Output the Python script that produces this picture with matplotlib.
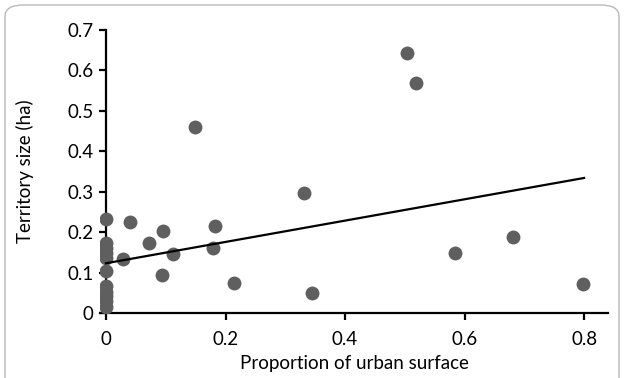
import matplotlib
matplotlib.use('Agg')
import matplotlib.pyplot as plt
from matplotlib.patches import FancyBboxPatch

plt.rcParams['font.family'] = ['Lato', 'DejaVu Sans']

# scatter values
urban = [0.503, 0.519, 0.149, 0.331, 0.345, 0.584, 0.681, 0.798, 0.215,
         0.182, 0.179, 0.112, 0.093, 0.096, 0.072, 0.040, 0.029,
         0, 0, 0, 0, 0, 0, 0, 0, 0, 0, 0]
territory = [0.642, 0.570, 0.459, 0.297, 0.049, 0.149, 0.189, 0.072, 0.073,
             0.214, 0.161, 0.147, 0.094, 0.203, 0.174, 0.225, 0.134,
             0.233, 0.173, 0.161, 0.148, 0.136, 0.105, 0.066, 0.053, 0.041, 0.029, 0.016]

# trend line end points
trend_x = [0, 0.8]
trend_y = [0.123, 0.334]

xticks = [0, 0.2, 0.4, 0.6, 0.8]
xticklabels = ['0', '0.2', '0.4', '0.6', '0.8']
yticks = [0, 0.1, 0.2, 0.3, 0.4, 0.5, 0.6, 0.7]
yticklabels = ['0', '0.1', '0.2', '0.3', '0.4', '0.5', '0.6', '0.7']

fig = plt.figure(figsize=(6.24, 3.78), dpi=100)
ax = fig.add_axes([100/624, 65/378, 508/624, 283/378])

# rounded frame around the figure
frame = FancyBboxPatch((5/624, -0.1), 614/624, (373/378) + 0.1,
                       boxstyle='round,pad=0,rounding_size=0.03',
                       transform=fig.transFigure, fill=False,
                       edgecolor='#b8b8b8', linewidth=1.0)
fig.patches.append(frame)

ax.plot(urban, territory, 'o', color='#5f5f5f', markersize=10, markeredgewidth=0, zorder=3)
ax.plot(trend_x, trend_y, '-', color='black', linewidth=1.6, zorder=4)

ax.set_xlim(-0.01, 0.84)
ax.set_ylim(0, 0.7)
ax.set_xticks(xticks)
ax.set_xticklabels(xticklabels)
ax.set_yticks(yticks)
ax.set_yticklabels(yticklabels)

for s in ['top', 'right']:
    ax.spines[s].set_visible(False)
ax.spines['left'].set_position(('data', 0))
ax.spines['left'].set_linewidth(1.6)
ax.spines['bottom'].set_linewidth(1.6)
ax.spines['left'].set_zorder(2)
ax.tick_params(axis='both', direction='out', length=5, width=1.6, labelsize=13.5, colors='black')
ax.tick_params(axis='x', pad=8)
ax.tick_params(axis='y', pad=4)

ax.set_xlabel('Proportion of urban surface', fontsize=13.5, labelpad=5)
ax.set_ylabel('Territory size (ha)', fontsize=13.5)
ax.yaxis.set_label_coords(-0.13, 0.5)

fig.savefig('out.png', dpi=100)
